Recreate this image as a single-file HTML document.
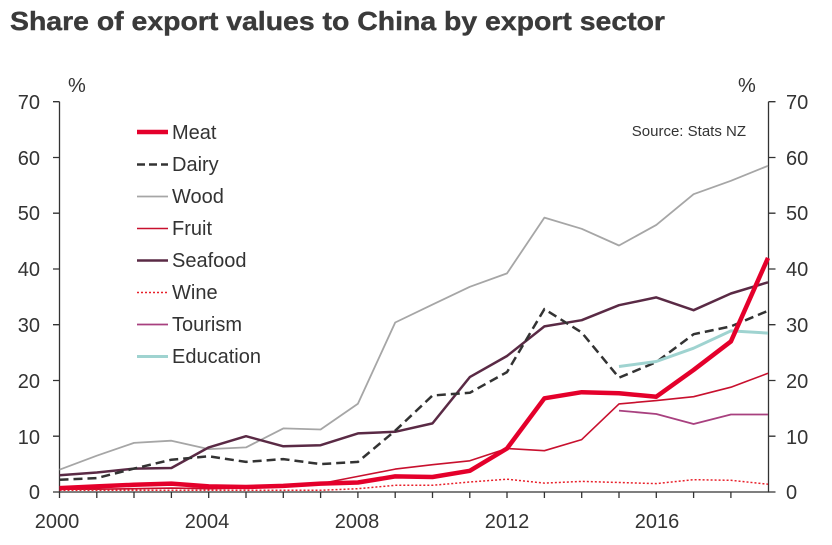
<!DOCTYPE html>
<html><head><meta charset="utf-8"><style>
body{margin:0;background:#fff;}
svg{display:block;font-family:"Liberation Sans",Arial,sans-serif;}
</style></head><body>
<svg width="832" height="545" viewBox="0 0 832 545" xmlns="http://www.w3.org/2000/svg">
<text x="10" y="30" font-size="26" font-weight="bold" fill="#3a3a3a" textLength="655" lengthAdjust="spacingAndGlyphs" stroke="#3a3a3a" stroke-width="0.4">Share of export values to China by export sector</text>
<g fill="#333" font-size="20">
<text x="68" y="92">%</text>
<text x="738" y="92">%</text>
<g text-anchor="end">
<text x="40" y="109">70</text><text x="40" y="165">60</text><text x="40" y="220">50</text><text x="40" y="276">40</text><text x="40" y="332">30</text><text x="40" y="388">20</text><text x="40" y="444">10</text><text x="40" y="499">0</text>
</g>
<g text-anchor="start">
<text x="786" y="109">70</text><text x="786" y="165">60</text><text x="786" y="220">50</text><text x="786" y="276">40</text><text x="786" y="332">30</text><text x="786" y="388">20</text><text x="786" y="444">10</text><text x="786" y="499">0</text>
</g>
<g text-anchor="middle">
<text x="57" y="528">2000</text><text x="207" y="528">2004</text><text x="357" y="528">2008</text><text x="507" y="528">2012</text><text x="657" y="528">2016</text>
</g>
</g>
<text x="746" y="136" font-size="15" fill="#333" text-anchor="end">Source: Stats NZ</text>
<g stroke="#333" stroke-width="1.3" fill="none">
<path d="M59.5 101.7V492H768.5V101.7"/>
<path d="M53 101.7h6.5M53 157.5h6.5M53 213.2h6.5M53 269h6.5M53 324.7h6.5M53 380.5h6.5M53 436.2h6.5M53 492h6.5"/>
<path d="M768.5 101.7h7M768.5 157.5h7M768.5 213.2h7M768.5 269h7M768.5 324.7h7M768.5 380.5h7M768.5 436.2h7M768.5 492h7"/>
<path d="M59.5 492v6M96.8 492v6M134 492v6M171.4 492v6M208.7 492v6M246 492v6M283.3 492v6M320.6 492v6M357.9 492v6M395.2 492v6M432.5 492v6M469.8 492v6M507 492v6M544.4 492v6M581.7 492v6M619 492v6M656.3 492v6M693.6 492v6M730.9 492v6"/>
</g>
<g fill="none" stroke-linejoin="round">
<polyline stroke="#a6a6a6" stroke-width="1.8" points="59.5,469.7 96.8,455.7 134,442.9 171.4,440.7 208.7,449.1 246,447.4 283.3,428.4 320.6,429.5 357.9,403.8 395.2,322.5 432.5,304.6 469.8,286.8 507,273.4 544.4,217.6 581.7,228.8 619,245.5 656.3,224.9 693.6,194.2 730.9,180.8 768,165.8"/>
<polyline stroke="#5a2a45" stroke-width="2.5" points="59.5,475.3 96.8,472.5 134,468.6 171.4,468 208.7,447.4 246,436.2 283.3,446.3 320.6,445.2 357.9,433.4 395.2,431.8 432.5,423.4 469.8,377.1 507,356 544.4,326.4 581.7,320.2 619,305.2 656.3,297.4 693.6,310.2 730.9,293.5 768,282.3"/>
<polyline stroke="#333" stroke-width="2.5" stroke-dasharray="9,5" points="59.5,479.7 96.8,478.1 134,468.6 171.4,459.7 208.7,456.3 246,461.9 283.3,459.1 320.6,464.1 357.9,461.9 395.2,430.7 432.5,395.5 469.8,392.8 507,372.1 544.4,309.1 581.7,332.5 619,377.7 656.3,362.1 693.6,334.2 730.9,326.4 768,310.8"/>
<polyline stroke="#c8102e" stroke-width="1.6" points="59.5,489.2 96.8,489.2 134,488.7 171.4,488.1 208.7,488.7 246,488.1 283.3,485.3 320.6,483.6 357.9,476.4 395.2,469.1 432.5,464.7 469.8,460.8 507,448.5 544.4,450.7 581.7,439.6 619,403.9 656.3,400.6 693.6,396.7 730.9,387.2 768,373.3"/>
<polyline stroke="#e8202a" stroke-width="1.5" stroke-dasharray="2,2" points="59.5,490.3 96.8,490.3 134,490.3 171.4,490.3 208.7,490.3 246,490.3 283.3,490.3 320.6,490.3 357.9,488.7 395.2,485.3 432.5,485.3 469.8,482 507,479.2 544.4,483.1 581.7,481.4 619,482.5 656.3,483.6 693.6,479.7 730.9,480.3 768,484.2"/>
<polyline stroke="#a8407f" stroke-width="1.8" points="619,410.6 656.3,414 693.6,424 730.9,414.5 768,414.5"/>
<polyline stroke="#9fd3d0" stroke-width="3" points="619,366.5 656.3,361.5 693.6,348.2 730.9,330.9 768,333.1"/>
<polyline stroke="#e4002b" stroke-width="4.5" points="59.5,488.1 96.8,486.4 134,484.8 171.4,483.6 208.7,486.4 246,487 283.3,485.9 320.6,483.6 357.9,482.5 395.2,476.4 432.5,477 469.8,470.8 507,448.5 544.4,398.3 581.7,392.2 619,393.3 656.3,396.7 693.6,369.9 730.9,341.4 768,257.9"/>
</g>
<g font-size="20" fill="#333">
<line x1="137" y1="132" x2="168" y2="132" stroke="#e4002b" stroke-width="4.5"/><text x="172" y="139">Meat</text>
<line x1="137" y1="164.5" x2="168" y2="164.5" stroke="#333" stroke-width="2.5" stroke-dasharray="8,4"/><text x="172" y="171">Dairy</text>
<line x1="137" y1="196.5" x2="168" y2="196.5" stroke="#a6a6a6" stroke-width="1.8"/><text x="172" y="203">Wood</text>
<line x1="137" y1="228.5" x2="168" y2="228.5" stroke="#c8102e" stroke-width="1.6"/><text x="172" y="235">Fruit</text>
<line x1="137" y1="260.5" x2="168" y2="260.5" stroke="#5a2a45" stroke-width="2.5"/><text x="172" y="267">Seafood</text>
<line x1="137" y1="292.5" x2="168" y2="292.5" stroke="#e8202a" stroke-width="1.5" stroke-dasharray="2,2"/><text x="172" y="299">Wine</text>
<line x1="137" y1="324.5" x2="168" y2="324.5" stroke="#a8407f" stroke-width="1.8"/><text x="172" y="331">Tourism</text>
<line x1="137" y1="356.5" x2="168" y2="356.5" stroke="#9fd3d0" stroke-width="3"/><text x="172" y="363">Education</text>
</g>
</svg>
</body></html>
